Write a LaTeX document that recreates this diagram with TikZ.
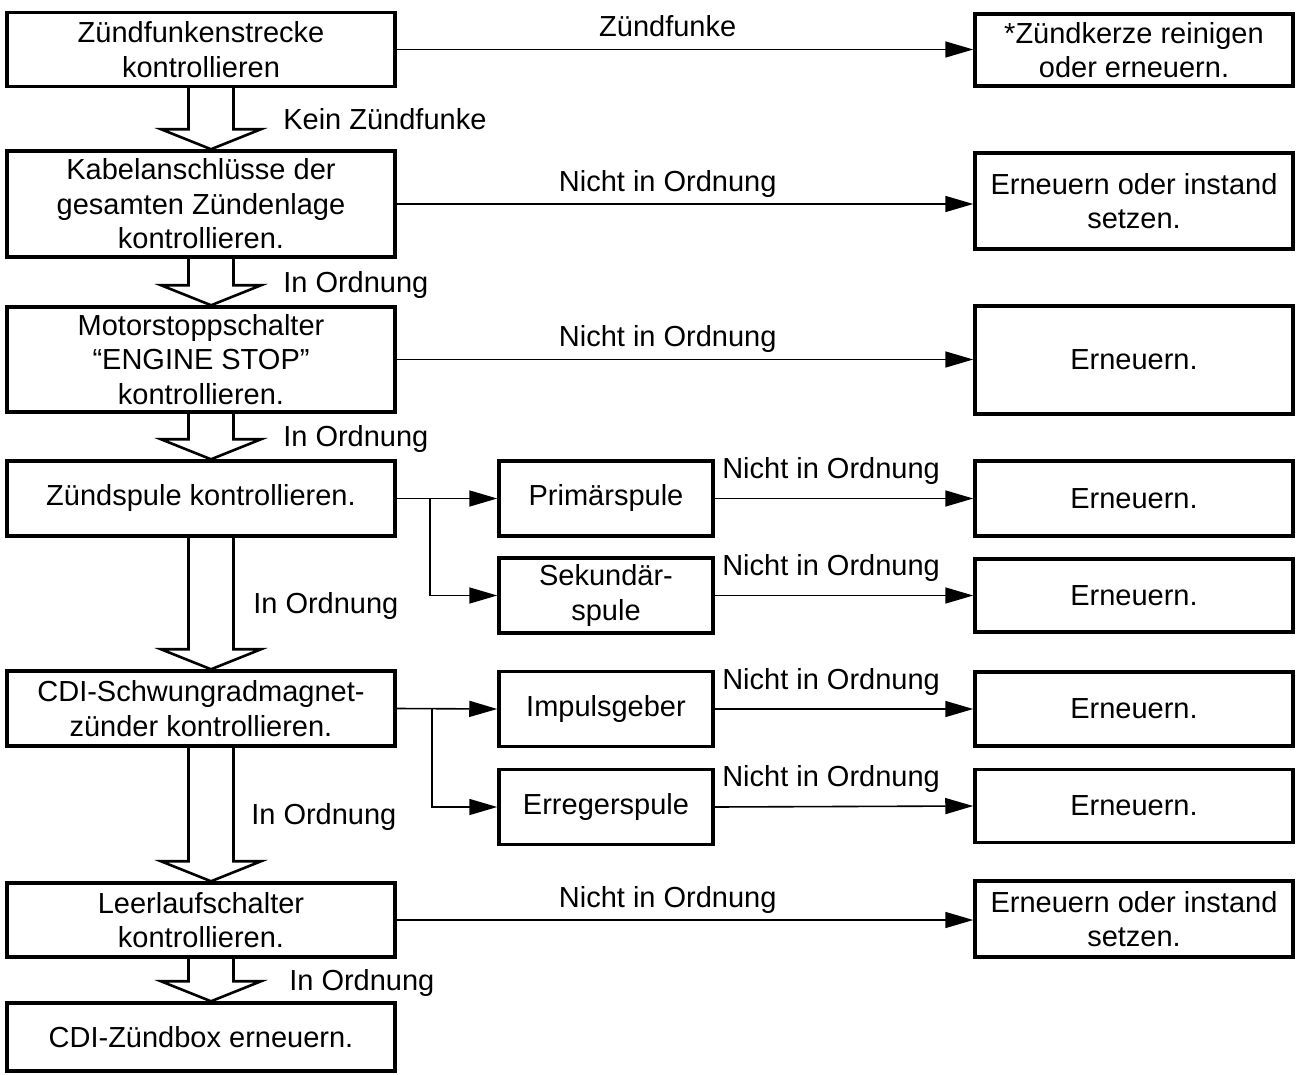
\documentclass[tikz,border=0pt]{standalone}
\usepackage{fontspec}
\setmainfont{Liberation Sans}
\usetikzlibrary{arrows.meta,calc}

% hollow "in order" arrow between two boxes of the left column
\newcommand{\okarrow}[4]{%
  \draw[hollow] let \p1=(#1.south), \p2=(#2.north) in
    (\x1-12.5pt,\y1) -- (\x1-12.5pt,\y2+20pt) -- (\x1-40pt,\y2+20pt) -- (\x1+10pt,\y2)
    -- (\x1+60pt,\y2+20pt) -- (\x1+32.5pt,\y2+20pt) -- (\x1+32.5pt,\y1)
    node[lab, anchor=base west] at (\x1+#4,{(\y1+\y2)/2-10.4pt}) {#3};%
}

\begin{document}
\begin{tikzpicture}[x=1pt, y=-1pt,
    box/.style={draw, line width=3.5pt, align=center, inner sep=2pt, font={\fontsize{29}{34.5}\selectfont}},
    lbox/.style={box, minimum width=388pt},
    mbox/.style={box, minimum width=214pt, minimum height=75pt},
    rbox/.style={box, minimum width=318pt},
    conn/.style={line width=1.6pt, -{Triangle[length=28pt,width=16pt]}},
    hollow/.style={line width=2.6pt, line join=miter},
    lab/.style={font={\fontsize{29}{34.5}\selectfont}, inner sep=0pt, anchor=base}]
    \useasboundingbox (0,0) rectangle (1296,1075);
    % left column
    \node[lbox, minimum height=74pt] (funke) at (201,49.5) {Zündfunkenstrecke\\kontrollieren};
    \node[lbox, minimum height=106pt] (kabel) at (201,204) {Kabelanschlüsse der\\gesamten Zündenlage\\kontrollieren.};
    \node[lbox, minimum height=105pt] (stopp) at (201,359.5) {Motorstoppschalter\\“ENGINE STOP”\\kontrollieren.};
    \node[lbox, minimum height=75pt] (spule) at (201,498.5) {Zündspule kontrollieren.};
    \node[lbox, minimum height=75pt] (cdi) at (201,708.5) {CDI-Schwungradmagnet-\\zünder kontrollieren.};
    \node[lbox, minimum height=74pt] (leerlauf) at (201,920) {Leerlaufschalter\\kontrollieren.};
    \node[lbox, minimum height=68pt] (zuendbox) at (201,1037) {CDI-Zündbox erneuern.};
    % middle column
    \node[mbox] (primaer) at (606,498.5) {Primärspule};
    \node[mbox] (sekundaer) at (606,595.5) {Sekundär-\\spule};
    \node[mbox] (impuls) at (606,709) {Impulsgeber};
    \node[mbox] (erreger) at (606,807) {Erregerspule};
    % right column
    \node[rbox, minimum height=72pt] (kerze) at (1134,50) {*Zündkerze reinigen\\oder erneuern.};
    \node[rbox, minimum height=96pt] (kabelfix) at (1134,201) {Erneuern oder instand\\setzen.};
    \node[rbox, minimum height=108pt] (stoppneu) at (1134,360) {Erneuern.};
    \node[rbox, minimum height=75pt] (primneu) at (1134,498.5) {Erneuern.};
    \node[rbox, minimum height=73pt] (sekneu) at (1134,595.5) {Erneuern.};
    \node[rbox, minimum height=74pt] (impneu) at (1134,709) {Erneuern.};
    \node[rbox, minimum height=73pt] (errneu) at (1134,806) {Erneuern.};
    \node[rbox, minimum height=76pt] (leerfix) at (1134,919) {Erneuern oder instand\\setzen.};
    % not ok branches
    \draw[conn] (funke.east) -- (funke.east -| kerze.west) node[lab, pos=.47, yshift=12.5pt] {Zündfunke};
    \draw[conn] (kabel.east) -- (kabel.east -| kabelfix.west) node[lab, pos=.47, yshift=12.5pt] {Nicht in Ordnung};
    \draw[conn] (stopp.east) -- (stopp.east -| stoppneu.west) node[lab, pos=.47, yshift=12.5pt] {Nicht in Ordnung};
    \draw[conn] (leerlauf.east) -- (leerlauf.east -| leerfix.west) node[lab, pos=.47, yshift=12.5pt] {Nicht in Ordnung};
    \coordinate (spulesplit) at ($(spule.east)+(33,0)$);
    \coordinate (cdisplit) at ($(cdi.east)+(35,0)$);
    \draw[conn] (spule.east) -- (primaer.west);
    \draw[conn] (spulesplit) |- (sekundaer.west);
    \draw[conn] (cdi.east) -- (impuls.west);
    \draw[conn] (cdisplit) |- (erreger.west);
    \draw[conn] (primaer.east) -- (primneu.west) node[lab, pos=.45, yshift=20pt] {Nicht in Ordnung};
    \draw[conn] (sekundaer.east) -- (sekneu.west) node[lab, pos=.45, yshift=20pt] {Nicht in Ordnung};
    \draw[conn] (impuls.east) -- (impneu.west) node[lab, pos=.45, yshift=20pt] {Nicht in Ordnung};
    \draw[conn] (erreger.east) -- (errneu.west) node[lab, pos=.45, yshift=20pt] {Nicht in Ordnung};
    % ok arrows
    \okarrow{funke}{kabel}{Kein Zündfunke}{81pt}
    \okarrow{kabel}{stopp}{In Ordnung}{81pt}
    \okarrow{stopp}{spule}{In Ordnung}{81pt}
    \okarrow{spule}{cdi}{In Ordnung}{51pt}
    \okarrow{cdi}{leerlauf}{In Ordnung}{49pt}
    \okarrow{leerlauf}{zuendbox}{In Ordnung}{87pt}
\end{tikzpicture}
\end{document}
